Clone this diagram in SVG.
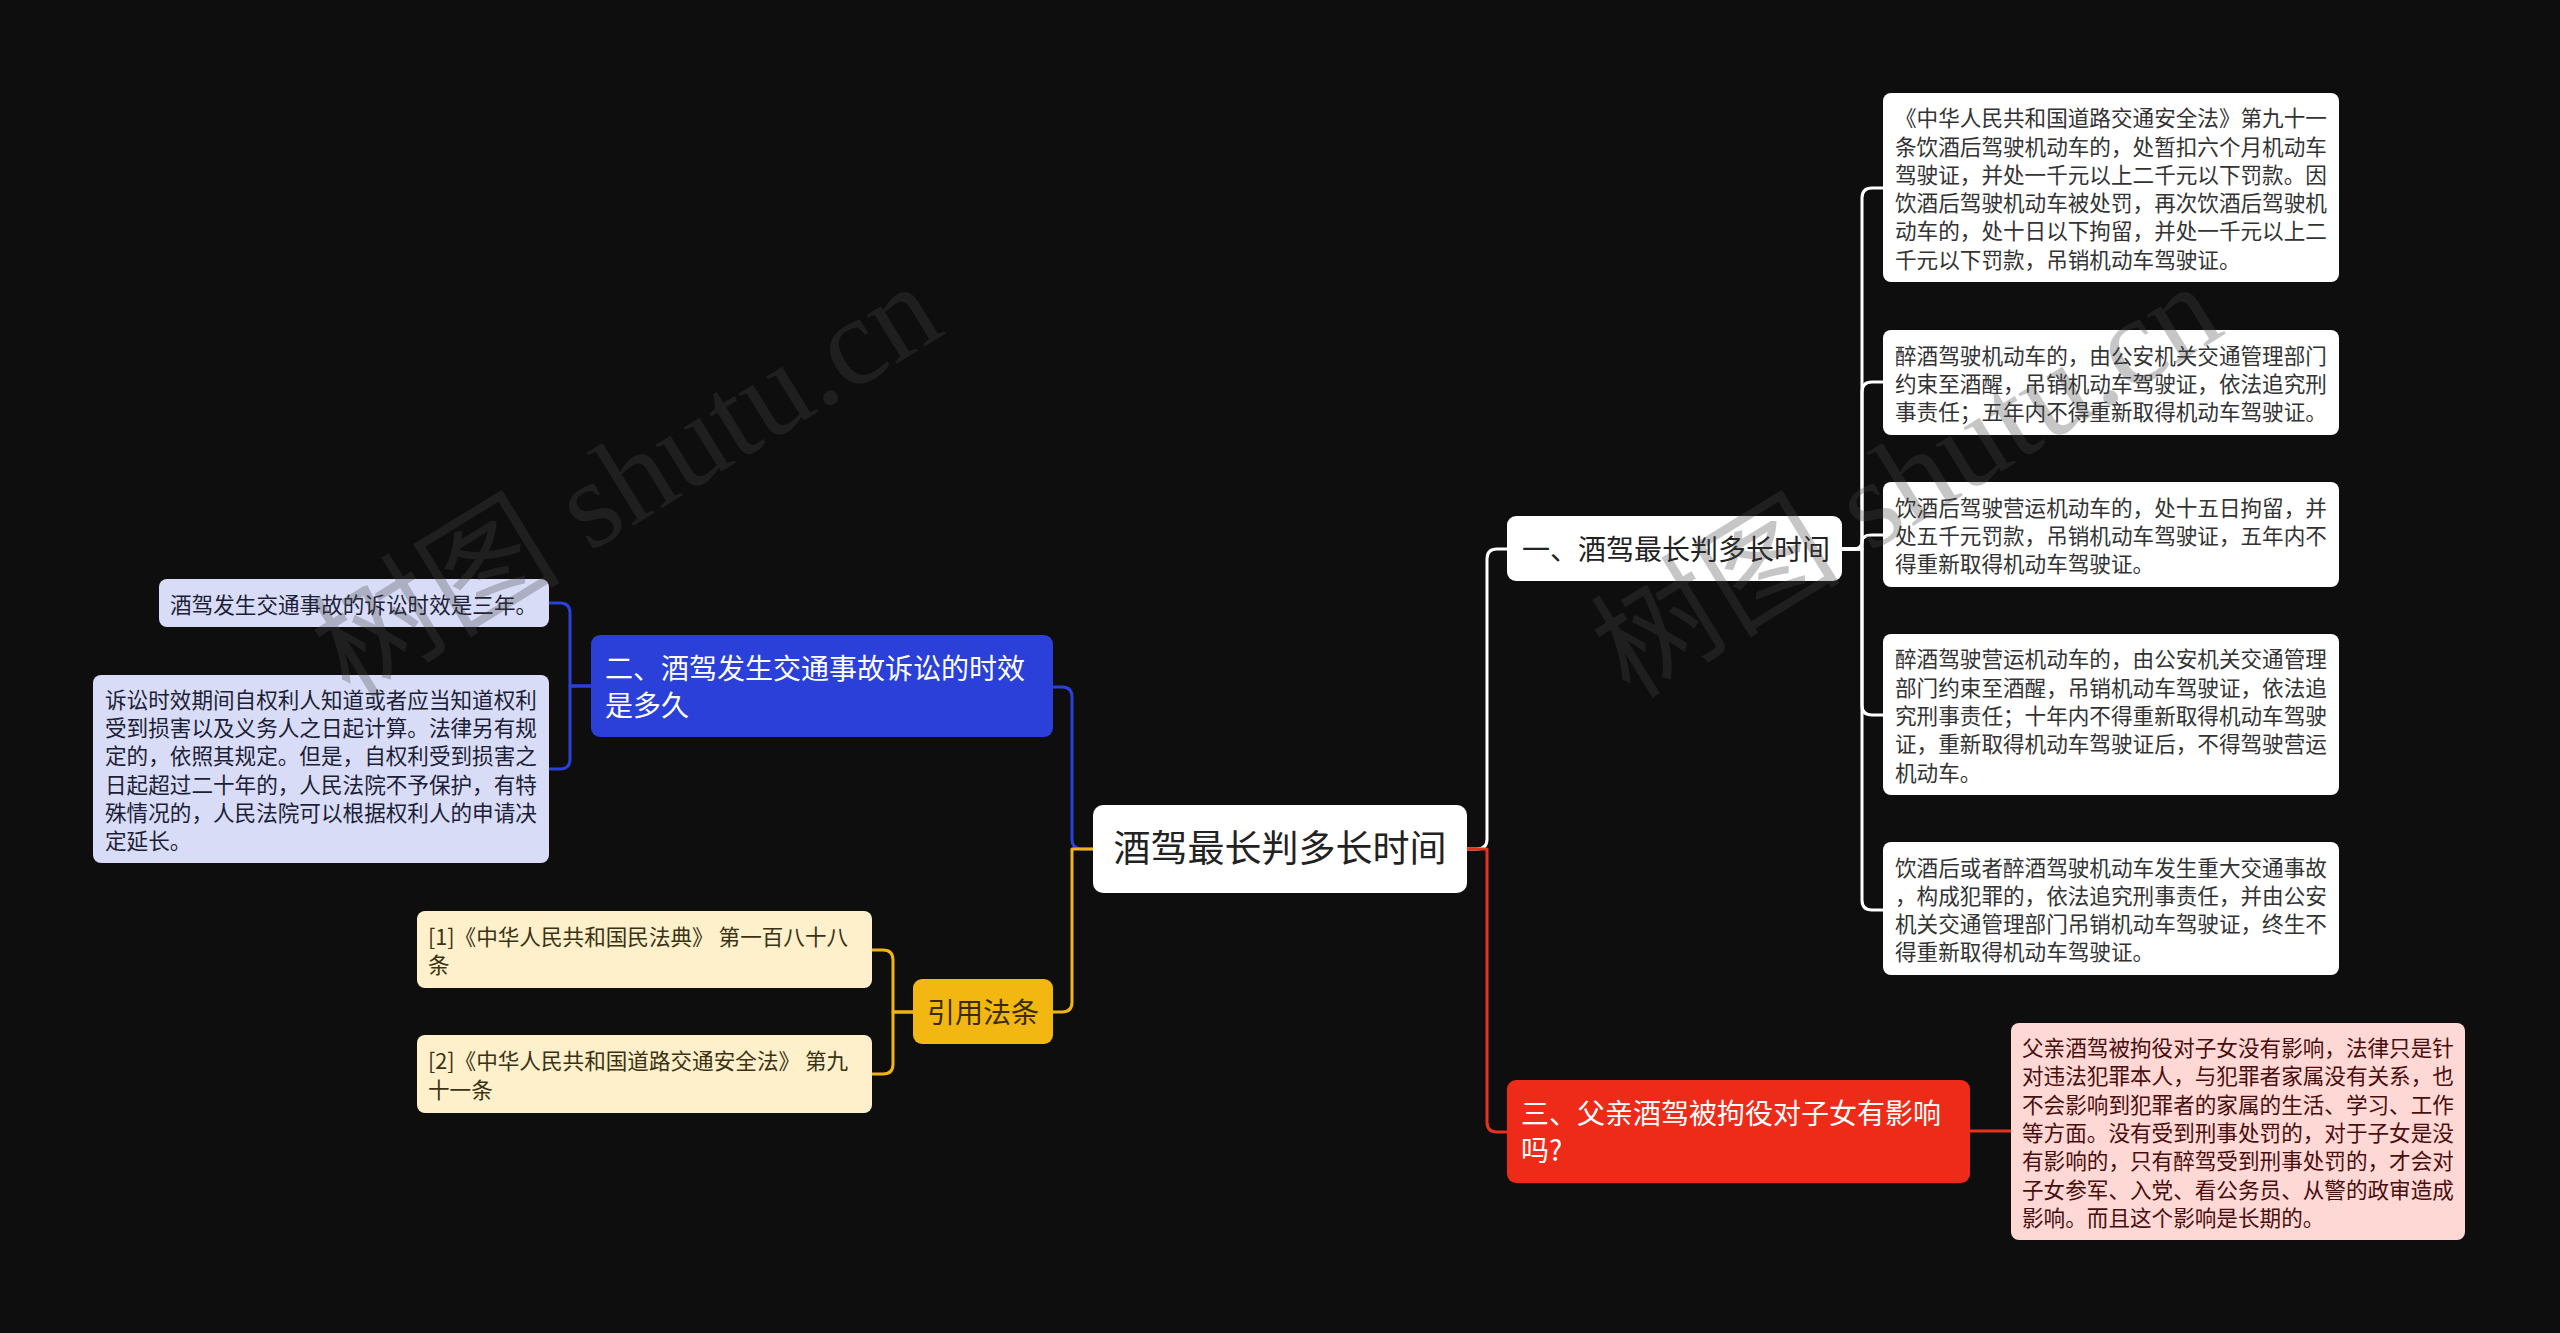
<svg xmlns="http://www.w3.org/2000/svg" width="2560" height="1333" viewBox="0 0 2560 1333">
<style>
text{font-family:"Noto Sans CJK SC","Noto Sans",sans-serif;}
.lk{fill:none;stroke-width:3;stroke-linecap:round;stroke-linejoin:round;}
.leaf{font-size:21.6px;}
.mid{font-size:28px;}
.wm{font-family:"Liberation Serif","Noto Sans CJK SC",serif;font-size:125px;fill:#464646;opacity:0.3;}
</style>
<rect x="0" y="0" width="2560" height="1333" fill="#0e0e0e"/>
<g id="connectors">
  <path class="lk" stroke="#ffffff" d="M1467,849 H1477 Q1487,849 1487,839 V559 Q1487,549 1497,549 H1507"/>
  <path class="lk" stroke="#e8321e" d="M1467,849 H1487 V1122 Q1487,1132 1497,1132 H1507"/>
  <path class="lk" stroke="#2b40d8" d="M1093,849 H1082 Q1072,849 1072,839 V697 Q1072,687 1062,687 H1053"/>
  <path class="lk" stroke="#f0b416" d="M1093,849 H1072 V1002 Q1072,1012 1062,1012 H1053"/>
  <path class="lk" stroke="#ffffff" d="M1842,549 H1862 V198 Q1862,188 1872,188 H1883"/>
  <path class="lk" stroke="#ffffff" d="M1842,549 H1862 V392 Q1862,382 1872,382 H1883"/>
  <path class="lk" stroke="#ffffff" d="M1842,549 H1852 Q1862,549 1862,542 Q1862,535 1872,535 H1883"/>
  <path class="lk" stroke="#ffffff" d="M1842,549 H1862 V705 Q1862,715 1872,715 H1883"/>
  <path class="lk" stroke="#ffffff" d="M1842,549 H1862 V900 Q1862,910 1872,910 H1883"/>
  <path class="lk" stroke="#2b40d8" d="M591,686 H570 V613 Q570,603 560,603 H549"/>
  <path class="lk" stroke="#2b40d8" d="M591,686 H570 V759 Q570,769 560,769 H549"/>
  <path class="lk" stroke="#f0b416" d="M913,1012 H893 V960 Q893,950 883,950 H872"/>
  <path class="lk" stroke="#f0b416" d="M913,1012 H893 V1064 Q893,1074 883,1074 H872"/>
  <path class="lk" stroke="#e8321e" d="M1970,1131 H2011"/>
</g>
<g id="root">
  <rect x="1093" y="805" width="374" height="88" rx="10" fill="#ffffff"/>
  <text x="1280" y="862" font-size="37" fill="#222222" text-anchor="middle">酒驾最长判多长时间</text>
</g>
<g id="n1">
  <rect x="1507" y="516" width="335" height="65" rx="9" fill="#ffffff"/>
  <text class="mid" x="1522" y="559.5" fill="#222222">一、酒驾最长判多长时间</text>
</g>
<g id="n1-1">
  <rect x="1883" y="93" width="456" height="189" rx="8" fill="#ffffff"/>
  <text class="leaf" x="1895" y="126.2" fill="#333333"><tspan x="1895">《中华人民共和国道路交通安全法》第九十一</tspan><tspan x="1895" dy="28.3">条饮酒后驾驶机动车的，处暂扣六个月机动车</tspan><tspan x="1895" dy="28.3">驾驶证，并处一千元以上二千元以下罚款。因</tspan><tspan x="1895" dy="28.3">饮酒后驾驶机动车被处罚，再次饮酒后驾驶机</tspan><tspan x="1895" dy="28.3">动车的，处十日以下拘留，并处一千元以上二</tspan><tspan x="1895" dy="28.3">千元以下罚款，吊销机动车驾驶证。</tspan></text>
</g>
<g id="n1-2">
  <rect x="1883" y="330" width="456" height="105" rx="8" fill="#ffffff"/>
  <text class="leaf" x="1895" y="363.7" fill="#333333"><tspan x="1895">醉酒驾驶机动车的，由公安机关交通管理部门</tspan><tspan x="1895" dy="28.3">约束至酒醒，吊销机动车驾驶证，依法追究刑</tspan><tspan x="1895" dy="28.3">事责任；五年内不得重新取得机动车驾驶证。</tspan></text>
</g>
<g id="n1-3">
  <rect x="1883" y="482" width="456" height="105" rx="8" fill="#ffffff"/>
  <text class="leaf" x="1895" y="515.7" fill="#333333"><tspan x="1895">饮酒后驾驶营运机动车的，处十五日拘留，并</tspan><tspan x="1895" dy="28.3">处五千元罚款，吊销机动车驾驶证，五年内不</tspan><tspan x="1895" dy="28.3">得重新取得机动车驾驶证。</tspan></text>
</g>
<g id="n1-4">
  <rect x="1883" y="634" width="456" height="161" rx="8" fill="#ffffff"/>
  <text class="leaf" x="1895" y="667.4" fill="#333333"><tspan x="1895">醉酒驾驶营运机动车的，由公安机关交通管理</tspan><tspan x="1895" dy="28.3">部门约束至酒醒，吊销机动车驾驶证，依法追</tspan><tspan x="1895" dy="28.3">究刑事责任；十年内不得重新取得机动车驾驶</tspan><tspan x="1895" dy="28.3">证，重新取得机动车驾驶证后，不得驾驶营运</tspan><tspan x="1895" dy="28.3">机动车。</tspan></text>
</g>
<g id="n1-5">
  <rect x="1883" y="842" width="456" height="133" rx="8" fill="#ffffff"/>
  <text class="leaf" x="1895" y="875.5" fill="#333333"><tspan x="1895">饮酒后或者醉酒驾驶机动车发生重大交通事故</tspan><tspan x="1895" dy="28.3">，构成犯罪的，依法追究刑事责任，并由公安</tspan><tspan x="1895" dy="28.3">机关交通管理部门吊销机动车驾驶证，终生不</tspan><tspan x="1895" dy="28.3">得重新取得机动车驾驶证。</tspan></text>
</g>
<g id="n3">
  <rect x="1507" y="1080" width="463" height="103" rx="9" fill="#ee2a18"/>
  <text class="mid" x="1521" y="1124" fill="#ffffff"><tspan x="1521">三、父亲酒驾被拘役对子女有影响</tspan><tspan x="1521" dy="37">吗?</tspan></text>
</g>
<g id="n3-1">
  <rect x="2011" y="1023" width="454" height="217" rx="8" fill="#fdd8d5"/>
  <text class="leaf" x="2022" y="1056.1" fill="#4a0e0e"><tspan x="2022">父亲酒驾被拘役对子女没有影响，法律只是针</tspan><tspan x="2022" dy="28.3">对违法犯罪本人，与犯罪者家属没有关系，也</tspan><tspan x="2022" dy="28.3">不会影响到犯罪者的家属的生活、学习、工作</tspan><tspan x="2022" dy="28.3">等方面。没有受到刑事处罚的，对于子女是没</tspan><tspan x="2022" dy="28.3">有影响的，只有醉驾受到刑事处罚的，才会对</tspan><tspan x="2022" dy="28.3">子女参军、入党、看公务员、从警的政审造成</tspan><tspan x="2022" dy="28.3">影响。而且这个影响是长期的。</tspan></text>
</g>
<g id="n2">
  <rect x="591" y="635" width="462" height="102" rx="9" fill="#2b40d8"/>
  <text class="mid" x="605" y="678.5" fill="#ffffff"><tspan x="605">二、酒驾发生交通事故诉讼的时效</tspan><tspan x="605" dy="37">是多久</tspan></text>
</g>
<g id="n2-1">
  <rect x="159" y="579" width="390" height="48" rx="8" fill="#d9dcf7"/>
  <text class="leaf" x="170" y="612.5" fill="#1c1e36">酒驾发生交通事故的诉讼时效是三年。</text>
</g>
<g id="n2-2">
  <rect x="93" y="675" width="456" height="188" rx="8" fill="#d9dcf7"/>
  <text class="leaf" x="105" y="707.8" fill="#1c1e36"><tspan x="105">诉讼时效期间自权利人知道或者应当知道权利</tspan><tspan x="105" dy="28.3">受到损害以及义务人之日起计算。法律另有规</tspan><tspan x="105" dy="28.3">定的，依照其规定。但是，自权利受到损害之</tspan><tspan x="105" dy="28.3">日起超过二十年的，人民法院不予保护，有特</tspan><tspan x="105" dy="28.3">殊情况的，人民法院可以根据权利人的申请决</tspan><tspan x="105" dy="28.3">定延长。</tspan></text>
</g>
<g id="n4">
  <rect x="913" y="979" width="140" height="65" rx="9" fill="#f2b811"/>
  <text class="mid" x="983" y="1022.5" fill="#3a2c00" text-anchor="middle">引用法条</text>
</g>
<g id="n4-1">
  <rect x="417" y="911" width="455" height="77" rx="8" fill="#fdf0cb"/>
  <text class="leaf" x="428" y="944.9" fill="#3b3214"><tspan x="428">[1]《中华人民共和国民法典》 第一百八十八</tspan><tspan x="428" dy="28.3">条</tspan></text>
</g>
<g id="n4-2">
  <rect x="417" y="1035" width="455" height="78" rx="8" fill="#fdf0cb"/>
  <text class="leaf" x="428" y="1069.4" fill="#3b3214"><tspan x="428">[2]《中华人民共和国道路交通安全法》 第九</tspan><tspan x="428" dy="28.3">十一条</tspan></text>
</g>
<g id="watermarks">
  <text class="wm" transform="translate(350,700) rotate(-31.6)">树图 shutu.cn</text>
  <text class="wm" transform="translate(1630,700) rotate(-31.6)">树图 shutu.cn</text>
</g>
</svg>
